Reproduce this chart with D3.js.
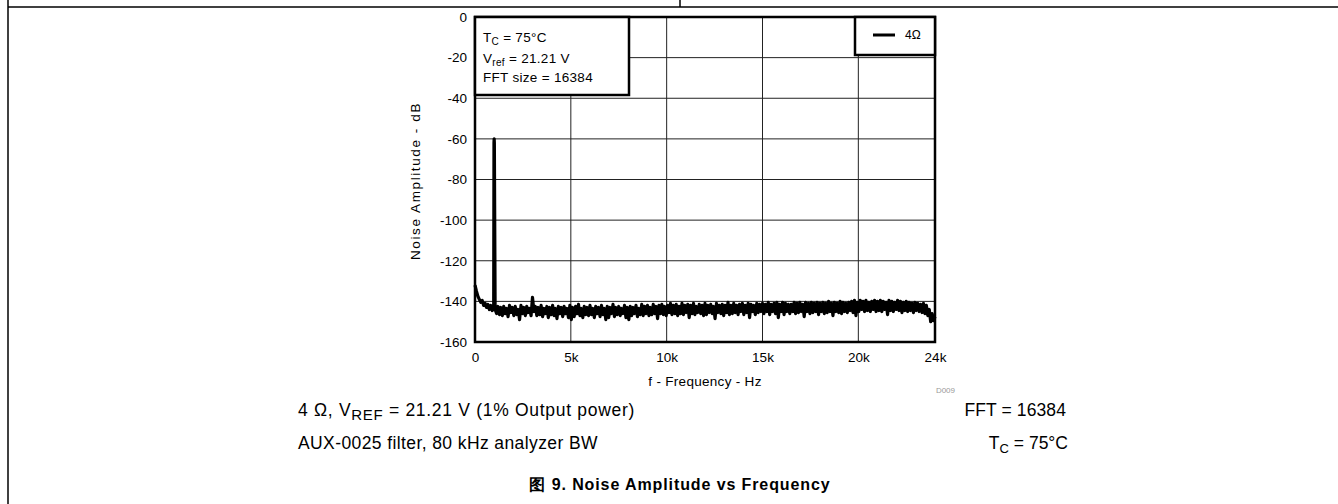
<!DOCTYPE html>
<html><head><meta charset="utf-8">
<script src="https://cdn.jsdelivr.net/npm/d3@7"></script>
<style>
html,body{margin:0;padding:0;background:#fff;}
svg text{font-family:Arial,"Liberation Sans",Helvetica,sans-serif;}
</style></head>
<body><div id="chart"></div>
<script>
// ---- data ----
const yTicks = [0,-20,-40,-60,-80,-100,-120,-140,-160];
const yTickLabels = ["0","-20","-40","-60","-80","-100","-120","-140","-160"];
const xTicks = [0,5000,10000,15000,20000,24000];
const xTickLabels = ["0","5k","10k","15k","20k","24k"];
const seriesName = "4\u03A9";
const freqHz = [
0,75,150,225,300,375,450,525,600,675,750,825,900,975,990,1000,1010,1050,1125,1200,1275,1350,1425,
1500,1575,1650,1725,1800,1875,1950,2025,2100,2175,2250,2325,2400,2475,2550,2625,2700,2775,2850,2925,
3000,3075,3150,3225,3300,3375,3450,3525,3600,3675,3750,3825,3900,3975,4050,4125,4200,4275,4350,4425,
4500,4575,4650,4725,4800,4875,4950,5025,5100,5175,5250,5325,5400,5475,5550,5625,5700,5775,5850,5925,
6000,6075,6150,6225,6300,6375,6450,6525,6600,6675,6750,6825,6900,6975,7050,7125,7200,7275,7350,7425,
7500,7575,7650,7725,7800,7875,7950,8025,8100,8175,8250,8325,8400,8475,8550,8625,8700,8775,8850,8925,
9000,9075,9150,9225,9300,9375,9450,9525,9600,9675,9750,9825,9900,9975,10050,10125,10200,10275,10350,10425,
10500,10575,10650,10725,10800,10875,10950,11025,11100,11175,11250,11325,11400,11475,11550,11625,11700,11775,11850,11925,
12000,12075,12150,12225,12300,12375,12450,12525,12600,12675,12750,12825,12900,12975,13050,13125,13200,13275,13350,13425,
13500,13575,13650,13725,13800,13875,13950,14025,14100,14175,14250,14325,14400,14475,14550,14625,14700,14775,14850,14925,
15000,15075,15150,15225,15300,15375,15450,15525,15600,15675,15750,15825,15900,15975,16050,16125,16200,16275,16350,16425,
16500,16575,16650,16725,16800,16875,16950,17025,17100,17175,17250,17325,17400,17475,17550,17625,17700,17775,17850,17925,
18000,18075,18150,18225,18300,18375,18450,18525,18600,18675,18750,18825,18900,18975,19050,19125,19200,19275,19350,19425,
19500,19575,19650,19725,19800,19875,19950,20025,20100,20175,20250,20325,20400,20475,20550,20625,20700,20775,20850,20925,
21000,21075,21150,21225,21300,21375,21450,21525,21600,21675,21750,21825,21900,21975,22050,22125,22200,22275,22350,22425,
22500,22575,22650,22725,22800,22875,22950,23025,23100,23175,23250,23325,23400,23475,23550,23625,23700,23775,23850,23925,
24000];
const noiseDb = [
-132,-135,-137.5,-139,-140.5,-139.5,-142,-141,-143,-141.5,-144,-142,-144.5,-143,-62,-60,-62,-144,-146,-142.5,-146.5,-143,-147,
-142.5,-146,-143.5,-147.5,-142,-145.5,-143,-147,-142.5,-146.5,-144,-149,-142,-146,-143,-147,-142.5,-145.5,-143.5,-147,
-138,-145,-142.5,-147,-143,-146.5,-142,-147.5,-143.5,-146,-142.5,-148,-143,-146.5,-142,-147,-143.5,-148.5,-142.5,-146,
-143,-147.5,-142.5,-146,-143.5,-148,-142,-149,-143,-147.5,-142.5,-146,-141.5,-147,-143.5,-148,-142.5,-146.5,-143,-147,
-142,-146.5,-143.5,-148,-142.5,-146,-143,-147.5,-142,-146.5,-143.5,-149,-142.5,-148,-143,-146,-141.5,-147.5,-143,-146.5,
-142.5,-147,-143.5,-146,-142,-148,-143,-149,-142.5,-147,-143,-146,-142,-147.5,-143.5,-146.5,-141.5,-147,-142.5,-146,
-142,-147,-143,-146.5,-141.5,-146,-142.5,-148.5,-142,-146,-141.5,-146.5,-142.5,-147,-142,-145.5,-141,-146.5,-142,-146,
-141.5,-147,-142.5,-146,-141,-146.5,-142,-145.5,-141.5,-148,-142,-146,-141,-146.5,-142.5,-145.5,-141.5,-146,-142,-147,
-141,-146.5,-142,-145.5,-141.5,-146,-142.5,-148.5,-141,-145.5,-142,-146,-141.5,-147,-142,-145.5,-140.5,-146.5,-142,-146,
-141,-145.5,-142,-146.5,-141.5,-145,-141,-146.5,-142,-145.5,-141,-148,-141.5,-145,-142,-146.5,-141,-145.5,-141.5,-145,
-141,-146,-141.5,-145,-140.5,-146.5,-141.5,-145,-141,-146,-140.5,-148,-141.5,-145,-140.5,-146.5,-141,-145,-141.5,-146,
-141.5,-145,-140.5,-146,-141,-145.5,-140.5,-145,-141.5,-147.5,-140.5,-145,-141,-146,-140.5,-145.5,-141,-145,-140.5,-146.5,
-141,-145,-140.5,-146,-141,-145.5,-140,-145,-141,-147,-140.5,-145,-141,-145.5,-140,-146,-140.5,-145,-141,-145.5,
-140.5,-144.5,-140,-145.5,-139.5,-147,-140.5,-145,-139.5,-144,-140,-145,-139.5,-144.5,-140.5,-145,-140,-144,-139.5,-145,
-140,-144.5,-139.5,-145,-140,-144,-140.5,-146.5,-139.5,-144.5,-140,-145,-140.5,-144,-139.5,-144.5,-140,-145.5,-140.5,-144.5,
-140,-145,-140.5,-144.5,-141,-145.5,-140.5,-144.5,-141,-145,-141.5,-145.5,-141,-146,-142,-147,-144,-150,-146,-149.5,
-147.5];
const boxLines = [
  {main:"T", sub:"C", rest:" = 75\u00B0C"},
  {main:"V", sub:"ref", rest:" = 21.21 V"},
  {main:"FFT size = 16384", sub:"", rest:""}
];

// ---- layout ----
const W = 1338, H = 504;
const M = {left:475, right:935, top:17, bottom:342};
const svg = d3.select("#chart").append("svg").attr("width",W).attr("height",H);

// page frame
svg.append("line").attr("x1",8).attr("x2",W).attr("y1",7).attr("y2",7).attr("stroke","#000").attr("stroke-width",1.5);
svg.append("line").attr("x1",8).attr("x2",8).attr("y1",0).attr("y2",H).attr("stroke","#000").attr("stroke-width",1.5);
svg.append("line").attr("x1",680).attr("x2",680).attr("y1",0).attr("y2",7).attr("stroke","#000").attr("stroke-width",1.5);

const x = d3.scaleLinear().domain([0,24000]).range([M.left,M.right]);
const y = d3.scaleLinear().domain([-160,0]).range([M.bottom,M.top]);

// grid
const g = svg.append("g");
g.selectAll(".vg").data(xTicks.slice(1,-1)).enter().append("line")
  .attr("x1",d=>x(d)).attr("x2",d=>x(d)).attr("y1",M.top).attr("y2",M.bottom)
  .attr("stroke","#222").attr("stroke-width",1);
g.selectAll(".hg").data(yTicks.slice(1,-1)).enter().append("line")
  .attr("x1",M.left).attr("x2",M.right).attr("y1",d=>y(d)).attr("y2",d=>y(d))
  .attr("stroke","#222").attr("stroke-width",1);

// axes labels via d3 axes
const yAxis = d3.axisLeft(y).tickValues(yTicks).tickFormat((d,i)=>yTickLabels[i]).tickSize(0).tickPadding(8);
svg.append("g").attr("transform",`translate(${M.left},0)`).call(yAxis)
  .call(s=>s.select(".domain").remove())
  .selectAll("text").attr("font-size",13.5).attr("font-family","Arial, 'Liberation Sans', sans-serif").attr("fill","#000");
const xAxis = d3.axisBottom(x).tickValues(xTicks).tickFormat((d,i)=>xTickLabels[i]).tickSize(0).tickPadding(10);
svg.append("g").attr("transform",`translate(0,${M.bottom})`).call(xAxis)
  .call(s=>s.select(".domain").remove())
  .selectAll("text").attr("font-size",13.5).attr("font-family","Arial, 'Liberation Sans', sans-serif").attr("fill","#000");

// series line
const pts = freqHz.map((f,i)=>[f,noiseDb[i]]);
svg.append("path").datum(pts)
  .attr("d", d3.line().x(d=>x(d[0])).y(d=>y(d[1])))
  .attr("fill","none").attr("stroke","#000").attr("stroke-width",3.2).attr("stroke-linejoin","round");

// plot frame
svg.append("rect").attr("x",M.left).attr("y",M.top).attr("width",M.right-M.left).attr("height",M.bottom-M.top)
  .attr("fill","none").attr("stroke","#000").attr("stroke-width",2.5);

// info box
svg.append("rect").attr("x",M.left).attr("y",M.top).attr("width",154).attr("height",78)
  .attr("fill","#fff").attr("stroke","#000").attr("stroke-width",2.5);
const bl = [42,63,82];
boxLines.forEach((l,i)=>{
  const t = svg.append("text").attr("x",483).attr("y",bl[i]).attr("font-size",13.5).attr("letter-spacing",0.3).attr("fill","#000");
  t.append("tspan").text(l.main);
  if(l.sub){
    t.append("tspan").attr("font-size",10).attr("dy",3).text(l.sub);
    t.append("tspan").attr("dy",-3).text(l.rest);
  }
});

// legend box
svg.append("rect").attr("x",855).attr("y",M.top).attr("width",80).attr("height",38)
  .attr("fill","#fff").attr("stroke","#000").attr("stroke-width",2.5);
svg.append("line").attr("x1",873).attr("x2",895).attr("y1",35).attr("y2",35).attr("stroke","#000").attr("stroke-width",3);
svg.append("text").attr("x",905).attr("y",39).attr("font-size",12).attr("font-family","'Liberation Serif','Times New Roman',serif").text(seriesName);

// axis titles
svg.append("text").attr("transform","translate(420,181) rotate(-90)").attr("text-anchor","middle")
  .attr("font-size",13.5).attr("letter-spacing",1.6).text("Noise Amplitude - dB");
svg.append("text").attr("x",705).attr("y",386).attr("text-anchor","middle").attr("font-size",13.5).attr("letter-spacing",0.3).text("f - Frequency - Hz");
svg.append("text").attr("x",955).attr("y",393).attr("text-anchor","end").attr("font-size",8).attr("fill","#999").text("D009");

// footnotes
const fn = svg.append("g").attr("font-size",17.5).attr("fill","#000");
const f1 = fn.append("text").attr("x",298).attr("y",416).attr("letter-spacing",0.7);
f1.append("tspan").text("4 \u03A9, V");
f1.append("tspan").attr("font-size",15).attr("dy",4).text("REF");
f1.append("tspan").attr("dy",-4).text(" = 21.21 V (1% Output power)");
fn.append("text").attr("x",298).attr("y",449).attr("letter-spacing",0.4).text("AUX-0025 filter, 80 kHz analyzer BW");
fn.append("text").attr("x",1066).attr("y",416).attr("text-anchor","end").attr("letter-spacing",0.1).text("FFT = 16384");
const f4 = fn.append("text").attr("x",1068).attr("y",449).attr("text-anchor","end");
f4.append("tspan").text("T");
f4.append("tspan").attr("font-size",13).attr("dy",4).text("C");
f4.append("tspan").attr("dy",-4).text(" = 75\u00B0C");

// caption
svg.append("text").attr("x",680).attr("y",490).attr("text-anchor","middle").attr("font-size",16).attr("font-weight","bold")
  .attr("letter-spacing",0.9)
  .attr("font-family","Arial,'Liberation Sans','Noto Sans CJK SC',sans-serif").text("\u56FE 9. Noise Amplitude vs Frequency");
</script></body></html>
